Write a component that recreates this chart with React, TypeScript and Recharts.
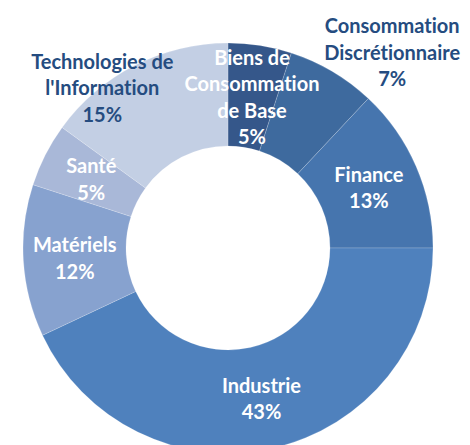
import React from "react";
import { PieChart, Pie, Cell } from "recharts";

const sectors = [
  "Biens de Consommation de Base",
  "Consommation Discrétionnaire",
  "Finance",
  "Industrie",
  "Matériels",
  "Santé",
  "Technologies de l'Information",
];
const shares = [5, 7, 13, 43, 12, 5, 15];
const labelLines = [
  ["Biens de", "Consommation", "de Base"],
  ["Consommation", "Discrétionnaire"],
  ["Finance"],
  ["Industrie"],
  ["Matériels"],
  ["Santé"],
  ["Technologies de", "l'Information"],
];
const colors = ["#35578A", "#3E6A9E", "#4675AE", "#4F81BD", "#87A2CF", "#A9B8D8", "#C3CFE4"];
const darkLabel = [false, true, false, false, false, false, true];

const data = sectors.map((name, i) => ({ name, value: shares[i] }));

const RAD = Math.PI / 180;
const LINE = 26.5;

const renderLabel = (props: any) => {
  const { cx, cy, midAngle, innerRadius, outerRadius, index, value } = props;
  const r = (innerRadius + outerRadius) / 2;
  let x = cx + r * Math.cos(-midAngle * RAD);
  let y = cy + r * Math.sin(-midAngle * RAD);
  if (index === 1) {
    x += 86;
    y -= 64;
  }
  if (index === 6) {
    x -= 56;
    y -= 24;
  }
  const lines = [...labelLines[index], `${value}%`];
  const n = lines.length;
  const startY = y - ((n - 1) * LINE) / 2;
  return (
    <text
      key={`lbl-${index}`}
      textAnchor="middle"
      fill={darkLabel[index] ? "#254C80" : "#FFFFFF"}
      fontFamily="Lato, 'Open Sans', sans-serif"
      fontWeight="bold"
      fontSize={20}
      style={{ fontVariantLigatures: "none" }}
    >
      {lines.map((t, i) => (
        <tspan key={i} x={x} y={startY + i * LINE} dominantBaseline="central">
          {t}
        </tspan>
      ))}
    </text>
  );
};

export default function App() {
  return (
    <PieChart width={462} height={437} style={{ overflow: "visible" }}>
      <Pie
        data={data}
        dataKey="value"
        nameKey="name"
        cx={215}
        cy={235}
        innerRadius={102}
        outerRadius={205}
        startAngle={90}
        endAngle={-270}
        label={renderLabel}
        labelLine={false}
        isAnimationActive={false}
        stroke="#ffffff"
        strokeOpacity={0.3}
        strokeWidth={0.6}
      >
        {data.map((d, i) => (
          <Cell key={d.name} fill={colors[i]} />
        ))}
      </Pie>
    </PieChart>
  );
}
